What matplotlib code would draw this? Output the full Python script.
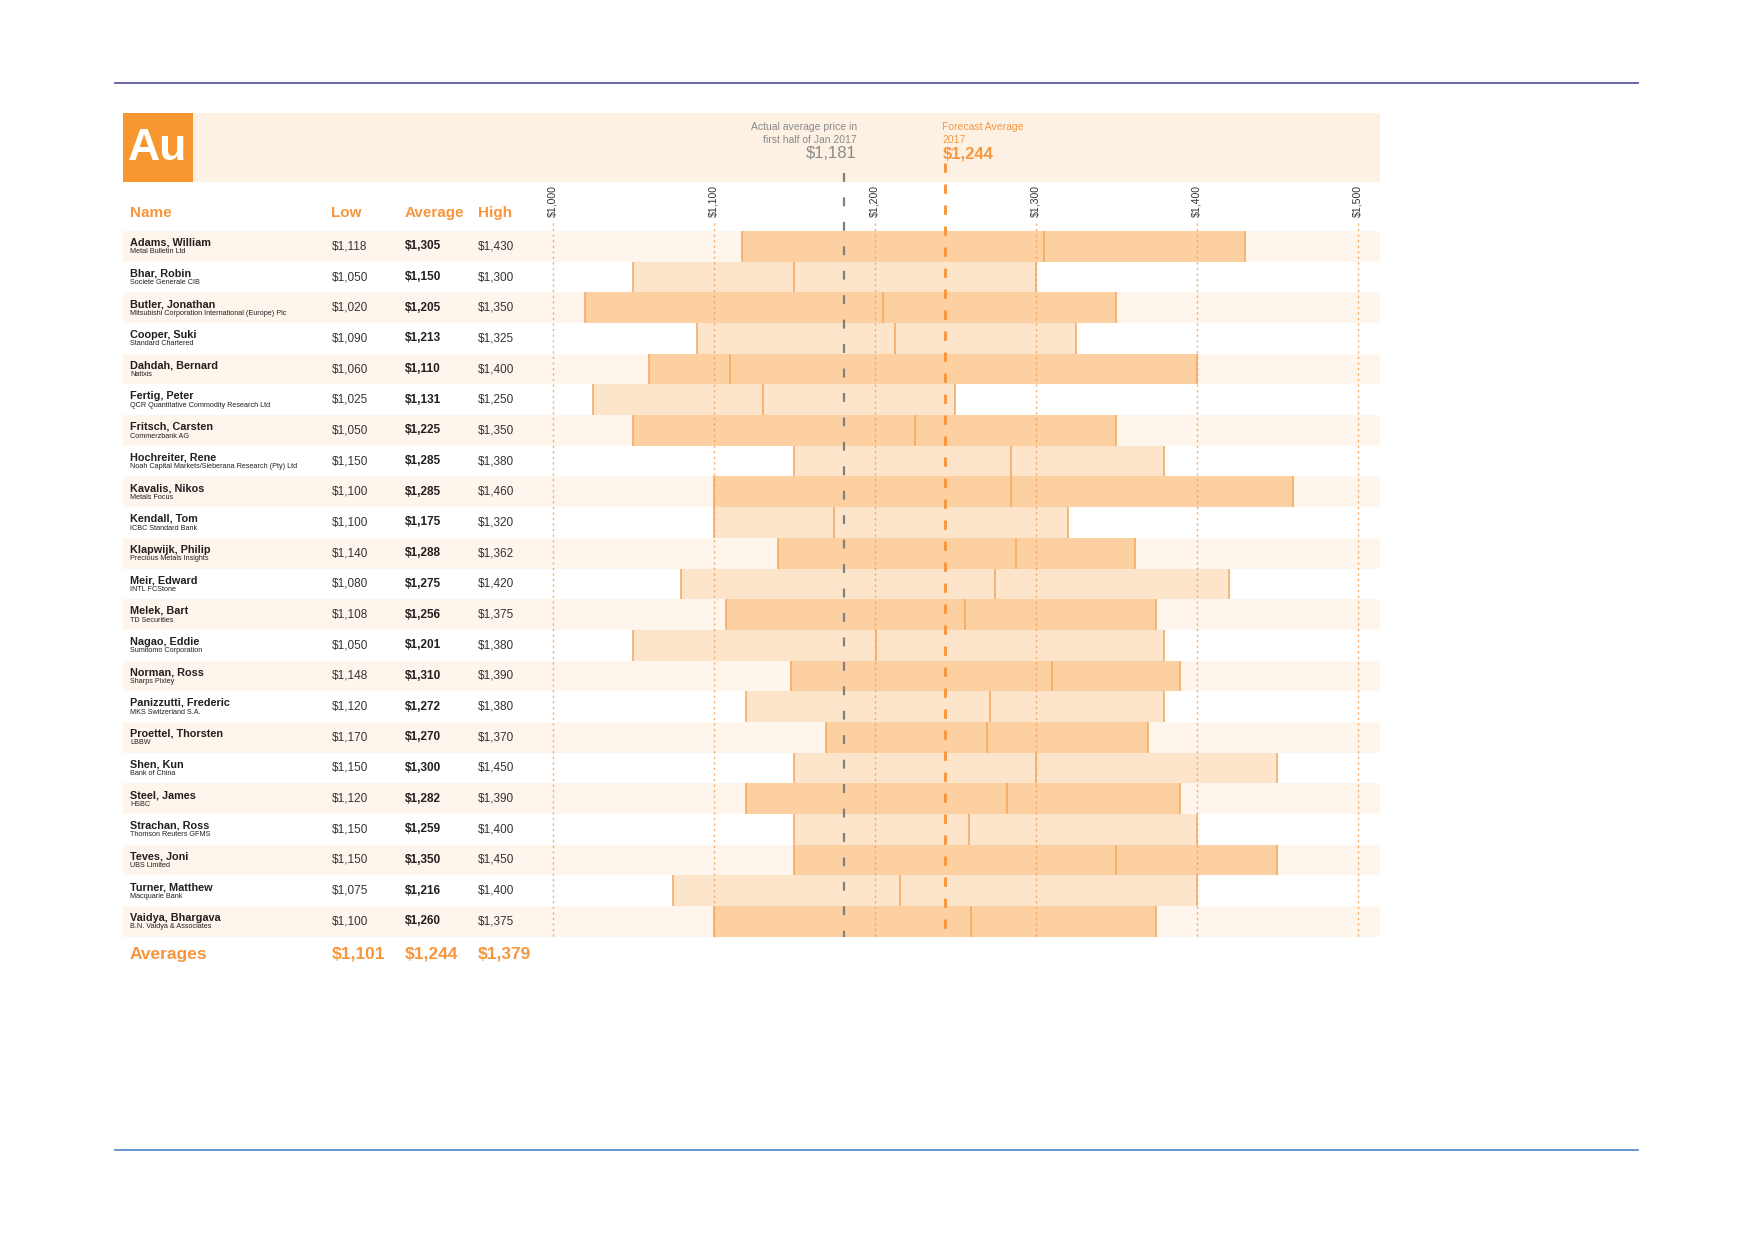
import matplotlib
matplotlib.use("Agg")
import matplotlib.pyplot as plt
from matplotlib.transforms import Affine2D, blended_transform_factory
from matplotlib.patches import Rectangle
from matplotlib.lines import Line2D

plt.rcParams['font.family'] = ['Liberation Sans', 'DejaVu Sans']

names = ["Adams, William", "Bhar, Robin", "Butler, Jonathan", "Cooper, Suki",
         "Dahdah, Bernard", "Fertig, Peter", "Fritsch, Carsten", "Hochreiter, Rene",
         "Kavalis, Nikos", "Kendall, Tom", "Klapwijk, Philip", "Meir, Edward",
         "Melek, Bart", "Nagao, Eddie", "Norman, Ross", "Panizzutti, Frederic",
         "Proettel, Thorsten", "Shen, Kun", "Steel, James", "Strachan, Ross",
         "Teves, Joni", "Turner, Matthew", "Vaidya, Bhargava"]
orgs = ["Metal Bulletin Ltd", "Societe Generale CIB",
        "Mitsubishi Corporation International (Europe) Plc", "Standard Chartered",
        "Natixis", "QCR Quantitative Commodity Research Ltd", "Commerzbank AG",
        "Noah Capital Markets/Sieberana Research (Pty) Ltd", "Metals Focus",
        "ICBC Standard Bank", "Precious Metals Insights", "INTL FCStone",
        "TD Securities", "Sumitomo Corporation", "Sharps Pixley",
        "MKS Switzerland S.A.", "LBBW", "Bank of China", "HSBC",
        "Thomson Reuters GFMS", "UBS Limited", "Macquarie Bank",
        "B.N. Vaidya & Associates"]
low = [1118, 1050, 1020, 1090, 1060, 1025, 1050, 1150, 1100, 1100, 1140, 1080,
       1108, 1050, 1148, 1120, 1170, 1150, 1120, 1150, 1150, 1075, 1100]
avg = [1305, 1150, 1205, 1213, 1110, 1131, 1225, 1285, 1285, 1175, 1288, 1275,
       1256, 1201, 1310, 1272, 1270, 1300, 1282, 1259, 1350, 1216, 1260]
high = [1430, 1300, 1350, 1325, 1400, 1250, 1350, 1380, 1460, 1320, 1362, 1420,
        1375, 1380, 1390, 1380, 1370, 1450, 1390, 1400, 1450, 1400, 1375]
ticks = [1000, 1100, 1200, 1300, 1400, 1500]
tick_labels = ["$1,000", "$1,100", "$1,200", "$1,300", "$1,400", "$1,500"]
actual_avg = 1181
forecast_avg = 1244
averages = ["$1,101", "$1,244", "$1,379"]

W, H = 1752, 1239
fig = plt.figure(figsize=(W / 100, H / 100), dpi=100)
fig.patch.set_facecolor('white')

# pixel transform (origin top-left)
pxT = Affine2D().scale(1.0 / W, -1.0 / H).translate(0, 1) + fig.transFigure

ORANGE = '#F7963C'
DARK_BAR = '#FCD0A1'
LIGHT_BAR = '#FDE5CC'
CREAM = '#FEF6EC'
HEADER = '#FDF1E4'
EDGE = '#F5A55E'
GRID = '#F4A055'
TEXT = '#231F20'

left_px, right_px = 122.7, 1380.0
top_px, bot_px = 231.0, 936.7
x0_px = 552.5
ppd = 1.61  # px per dollar
xmin = 1000 - (x0_px - left_px) / ppd
xmax = 1000 + (right_px - x0_px) / ppd
ax = fig.add_axes([left_px / W, 1 - bot_px / H, (right_px - left_px) / W, (bot_px - top_px) / H])
ax.set_zorder(2)
n = len(names)
ax.set_xlim(xmin, xmax)
ax.set_ylim(n - 0.5, -0.5)
for s in ax.spines.values():
    s.set_visible(False)
ax.set_facecolor('none')
ax.xaxis.set_ticks_position('top')
ax.set_xticks(ticks)
ax.set_xticklabels(tick_labels, rotation=90, fontsize=7.6, color='#333333')
ax.tick_params(axis='x', length=0, pad=10)
ax.set_yticks([])

row_h = (bot_px - top_px) / n

# header band & box
fig.patches.append(Rectangle((left_px, 113), right_px - left_px, 69, transform=pxT,
                             facecolor=HEADER, edgecolor='none', zorder=0))
fig.patches.append(Rectangle((123, 113), 70, 69, transform=pxT,
                             facecolor='#F7972F', edgecolor='none', zorder=1))
fig.text(158, 148, "Au", transform=pxT, fontsize=32, fontweight='bold', color='white',
         ha='center', va='center')

# rules
fig.add_artist(Line2D([115, 1638], [83, 83], transform=pxT, color='#5C5CA3', lw=1.3))
fig.add_artist(Line2D([115, 1638], [1150.3, 1150.3], transform=pxT, color='#5B8FC9', lw=1.3))

# row bands and bars
for i in range(n):
    if i % 2 == 0:
        ax.axhspan(i - 0.5, i + 0.5, color=CREAM, lw=0, zorder=0)
    col = DARK_BAR if i % 2 == 0 else LIGHT_BAR
    ax.barh(i, high[i] - low[i], left=low[i], height=1.0, color=col, lw=0, zorder=1)
    for v in (low[i], avg[i], high[i]):
        ax.plot([v, v], [i - 0.5, i + 0.5], color=EDGE, lw=1.1, zorder=3,
                solid_capstyle='butt')

# grid lines
grid_top = -0.5 - 8 / row_h
for t in ticks:
    ax.plot([t, t], [grid_top, n - 0.5], color=GRID, lw=1.0, ls=(0, (1.5, 2.5)),
            alpha=0.9, zorder=2, clip_on=False)

# reference lines
ax.plot([actual_avg, actual_avg], [-0.5 - (top_px - 172.7) / row_h, n - 0.5],
        color='#808080', lw=1.6, ls=(0, (4, 7)), zorder=4, clip_on=False)
ax.plot([forecast_avg, forecast_avg], [-0.5 - (top_px - 163) / row_h, n - 0.5],
        color=ORANGE, lw=2.1, ls=(0, (3.2, 4)), zorder=4, clip_on=False)

# annotations in header
fig.text(856.7, 127.5, "Actual average price in", transform=pxT, fontsize=7.5,
         color='#8A8A8A', ha='right', va='center')
fig.text(856.7, 139.8, "first half of Jan 2017", transform=pxT, fontsize=7.5,
         color='#8A8A8A', ha='right', va='center')
fig.text(856.7, 154, "$1,181", transform=pxT, fontsize=12,
         color='#8A8A8A', ha='right', va='center')
fig.text(942.3, 127.5, "Forecast Average", transform=pxT, fontsize=7.5,
         color=ORANGE, ha='left', va='center')
fig.text(942.3, 139.8, "2017", transform=pxT, fontsize=7.5,
         color=ORANGE, ha='left', va='center')
fig.text(942.3, 154, "$1,244", transform=pxT, fontsize=12, fontweight='bold',
         color=ORANGE, ha='left', va='center')

# column headers
col_name, col_low, col_avg, col_high = 130, 331.5, 405, 478
for xx, lab in [(col_name, "Name"), (col_low, "Low"), (col_avg, "Average"), (col_high, "High")]:
    fig.text(xx, 213, lab, transform=pxT, fontsize=11, fontweight='bold', color=ORANGE,
             ha='left', va='center')

# table text
bt = blended_transform_factory(pxT, ax.transData)
for i in range(n):
    ax.text(col_name, i - 3.6 / row_h, names[i], transform=bt, fontsize=7.8,
            fontweight='bold', color=TEXT, ha='left', va='center')
    ax.text(col_name, i + 5.6 / row_h, orgs[i], transform=bt, fontsize=5.2,
            color=TEXT, ha='left', va='center')
    ax.text(col_low, i, f"${low[i]:,}", transform=bt, fontsize=8.5,
            color='#333333', ha='left', va='center')
    ax.text(col_avg, i, f"${avg[i]:,}", transform=bt, fontsize=8.5,
            fontweight='bold', color=TEXT, ha='left', va='center')
    ax.text(col_high, i, f"${high[i]:,}", transform=bt, fontsize=8.5,
            color='#333333', ha='left', va='center')

# averages row
fig.text(col_name, 954, "Averages", transform=pxT, fontsize=12.5, fontweight='bold',
         color=ORANGE, ha='left', va='center')
for xx, lab in zip([col_low, col_avg, col_high], averages):
    fig.text(xx, 954, lab, transform=pxT, fontsize=12.5, fontweight='bold',
             color=ORANGE, ha='left', va='center')

fig.savefig("out.png", dpi=100, facecolor='white')
